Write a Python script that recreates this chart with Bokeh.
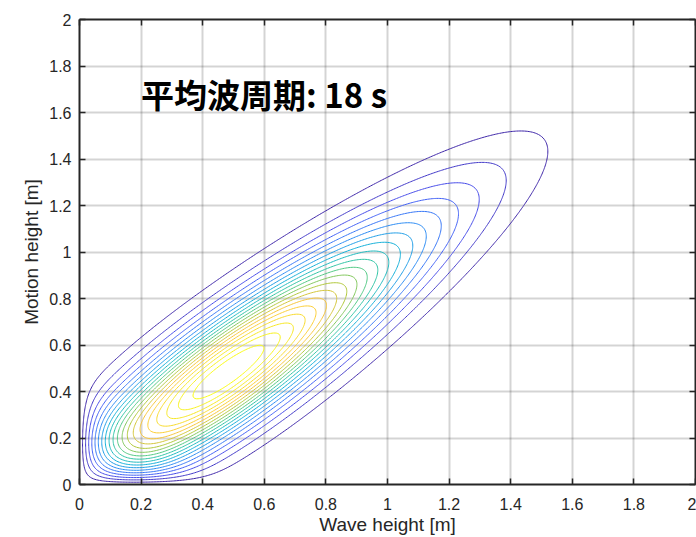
import numpy as np
from bokeh.plotting import figure
from bokeh.models import FixedTicker, LinearAxis, Label, Range1d, CustomLabelingPolicy
from bokeh.embed import file_html
from bokeh.resources import INLINE

# Joint distribution of wave height and motion height (correlated Rayleigh)
sigma_wave = 0.50      # Rayleigh scale of wave height [m]
sigma_motion = 0.50    # Rayleigh scale of motion height [m]
kappa = 0.935          # correlation parameter
n_levels = 20          # number of contour levels
mean_period = 18       # mean wave period [s]

tick_values = [0, 0.2, 0.4, 0.6, 0.8, 1.0, 1.2, 1.4, 1.6, 1.8, 2.0]
tick_labels = ["0", "0.2", "0.4", "0.6", "0.8", "1", "1.2", "1.4", "1.6", "1.8", "2"]

# parula colormap stops
parula_stops = [
    (0.2422, 0.1504, 0.6603), (0.2810, 0.3228, 0.9579), (0.1786, 0.5289, 0.9682),
    (0.0689, 0.6948, 0.8394), (0.2161, 0.7843, 0.5923), (0.6720, 0.7793, 0.2227),
    (0.9970, 0.7659, 0.2199), (0.9610, 0.8890, 0.1537), (0.9769, 0.9839, 0.0805),
]

x = np.linspace(0, 2, 401)
y = np.linspace(0, 2, 401)
X, Y = np.meshgrid(x, y)
sx2, sy2 = sigma_wave ** 2, sigma_motion ** 2
q = 1 - kappa ** 2
Z = (X * Y / (sx2 * sy2 * q)
     * np.exp(-(X ** 2 / sx2 + Y ** 2 / sy2) / (2 * q))
     * np.i0(kappa * X * Y / (np.sqrt(sx2 * sy2) * q)))

zmin, zmax = Z.min(), Z.max()
levels = np.linspace(zmin, zmax, n_levels + 2)[1:-1]


def parula(t):
    t = min(max(t, 0.0), 1.0) * (len(parula_stops) - 1)
    i = min(int(t), len(parula_stops) - 2)
    f = t - i
    c0, c1 = parula_stops[i], parula_stops[i + 1]
    r, g, b = (int(round(255 * (a + (b_ - a) * f))) for a, b_ in zip(c0, c1))
    return "#%02x%02x%02x" % (r, g, b)


line_colors = [parula((lv - levels[0]) / (levels[-1] - levels[0])) for lv in levels]

p = figure(width=696, height=537, output_backend="svg", toolbar_location=None,
           x_range=Range1d(0, 2), y_range=Range1d(0, 2),
           min_border_left=79, min_border_right=1, min_border_top=19, min_border_bottom=53)
p.background_fill_color = "white"
p.border_fill_color = "white"
p.outline_line_color = None

p.contour(x, y, Z, levels, line_color=line_colors, line_width=1, fill_color=None)

overrides = {v: s for v, s in zip(tick_values, tick_labels)}
font = "Liberation Sans"
ink = "#262626"
for ax in (p.xaxis[0], p.yaxis[0]):
    ax.ticker = FixedTicker(ticks=tick_values)
    ax.major_label_overrides = overrides
    ax.major_label_text_font = font
    ax.major_label_text_font_size = "16px"
    ax.major_label_text_color = ink
    ax.axis_label_text_font = font
    ax.axis_label_text_font_size = "19px"
    ax.axis_label_text_font_style = "normal"
    ax.axis_label_text_color = ink
    ax.axis_line_color = ink
    ax.axis_line_width = 2
    ax.major_tick_line_color = ink
    ax.major_tick_line_width = 1.5
    ax.major_tick_in = 6
    ax.major_tick_out = 0
    ax.minor_tick_line_color = None

p.xaxis.axis_label = "Wave height [m]"
p.yaxis.axis_label = "Motion height [m]"
p.xaxis.major_label_standoff = 13
p.xaxis.axis_label_standoff = 1
p.yaxis.major_label_standoff = 8
p.yaxis.axis_label_standoff = 4

# box: tick marks on the right and top edges, without labels
hide_all = CustomLabelingPolicy(code="for (const i of Array.from(indices)) indices.unset(i); return indices")
for side in ("right", "above"):
    ax = LinearAxis(ticker=FixedTicker(ticks=tick_values), major_label_policy=hide_all)
    ax.major_label_text_font_size = "0px"
    ax.major_label_standoff = 0
    ax.axis_line_color = ink
    ax.axis_line_width = 2
    ax.major_tick_line_color = ink
    ax.major_tick_line_width = 1.5
    ax.major_tick_in = 6
    ax.major_tick_out = 0
    ax.minor_tick_line_color = None
    p.add_layout(ax, side)

for g in (p.xgrid[0], p.ygrid[0]):
    g.ticker = FixedTicker(ticks=tick_values)
    g.grid_line_color = ink
    g.grid_line_alpha = 0.2
    g.grid_line_width = 2

p.add_layout(Label(x=0.2, y=1.68, text="平均波周期: %d s" % mean_period,
                   text_font="Noto Sans CJK JP", text_font_style="bold",
                   text_font_size="33px", text_baseline="middle", text_color="black"))

open("out.html", "w").write(file_html(p, INLINE))
